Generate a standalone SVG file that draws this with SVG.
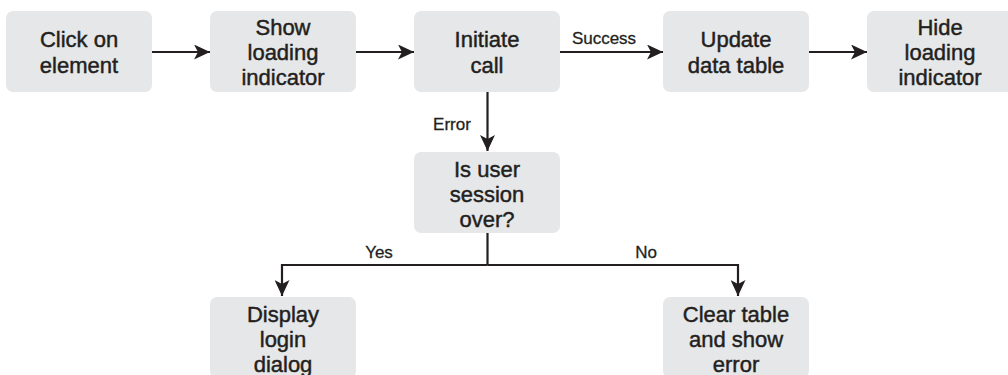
<svg xmlns="http://www.w3.org/2000/svg" width="1008" height="375" viewBox="0 0 1008 375">
<defs>
<marker id="ah" markerUnits="userSpaceOnUse" markerWidth="16" markerHeight="15" refX="16" refY="7.5" orient="auto" viewBox="0 0 16 15">
<path d="M0,0 L16,7.5 L0,15 L4,7.5 z" fill="#231f20"/>
</marker>
<style>
.box{fill:#e6e7e8;}
.t{font-family:"Liberation Sans",Arial,sans-serif;font-size:22px;fill:#231f20;stroke:#231f20;stroke-width:0.45;text-anchor:middle;}
.l{font-family:"Liberation Sans",Arial,sans-serif;font-size:17px;fill:#231f20;stroke:#231f20;stroke-width:0.3;text-anchor:middle;}
.c{fill:none;stroke:#231f20;stroke-width:2.2;}
</style>
</defs>
<rect width="1008" height="375" fill="#ffffff"/>
<g id="n1"><rect class="box" x="6" y="11" width="146" height="81" rx="7"/>
<text class="t" x="79" y="47">Click on</text><text class="t" x="79" y="73">element</text></g>
<g id="n2"><rect class="box" x="210" y="11" width="146" height="81" rx="7"/>
<text class="t" x="283" y="35">Show</text><text class="t" x="283" y="60">loading</text><text class="t" x="283" y="85">indicator</text></g>
<g id="n3"><rect class="box" x="414" y="11" width="146" height="81" rx="7"/>
<text class="t" x="487" y="47">Initiate</text><text class="t" x="487" y="73">call</text></g>
<g id="n4"><rect class="box" x="663" y="11" width="146" height="81" rx="7"/>
<text class="t" x="736" y="47">Update</text><text class="t" x="736" y="73">data table</text></g>
<g id="n5"><rect class="box" x="867" y="11" width="146" height="81" rx="7"/>
<text class="t" x="940" y="35">Hide</text><text class="t" x="940" y="60">loading</text><text class="t" x="940" y="85">indicator</text></g>
<g id="n6"><rect class="box" x="414" y="152" width="146" height="81" rx="7"/>
<text class="t" x="487" y="177">Is user</text><text class="t" x="487" y="202">session</text><text class="t" x="487" y="227">over?</text></g>
<g id="n7"><rect class="box" x="210" y="297" width="146" height="81" rx="7"/>
<text class="t" x="283" y="322">Display</text><text class="t" x="283" y="347">login</text><text class="t" x="283" y="372">dialog</text></g>
<g id="n8"><rect class="box" x="663" y="297" width="146" height="81" rx="7"/>
<text class="t" x="736" y="322">Clear table</text><text class="t" x="736" y="347">and show</text><text class="t" x="736" y="372">error</text></g>
<g id="connectors">
<line class="c" x1="152" y1="52" x2="210" y2="52" marker-end="url(#ah)"/>
<line class="c" x1="356" y1="52" x2="414" y2="52" marker-end="url(#ah)"/>
<line class="c" x1="560" y1="52" x2="663" y2="52" marker-end="url(#ah)"/>
<line class="c" x1="809" y1="52" x2="867" y2="52" marker-end="url(#ah)"/>
<line class="c" x1="487.5" y1="92" x2="487.5" y2="151" marker-end="url(#ah)"/>
<line class="c" x1="487.5" y1="233" x2="487.5" y2="265"/>
<polyline class="c" points="487.5,265 282,265 282,296" marker-end="url(#ah)"/>
<polyline class="c" points="487.5,265 738,265 738,296" marker-end="url(#ah)"/>
<text class="l" x="604" y="44">Success</text>
<text class="l" x="452" y="130">Error</text>
<text class="l" x="379" y="258">Yes</text>
<text class="l" x="646" y="258">No</text>
</g>
</svg>
